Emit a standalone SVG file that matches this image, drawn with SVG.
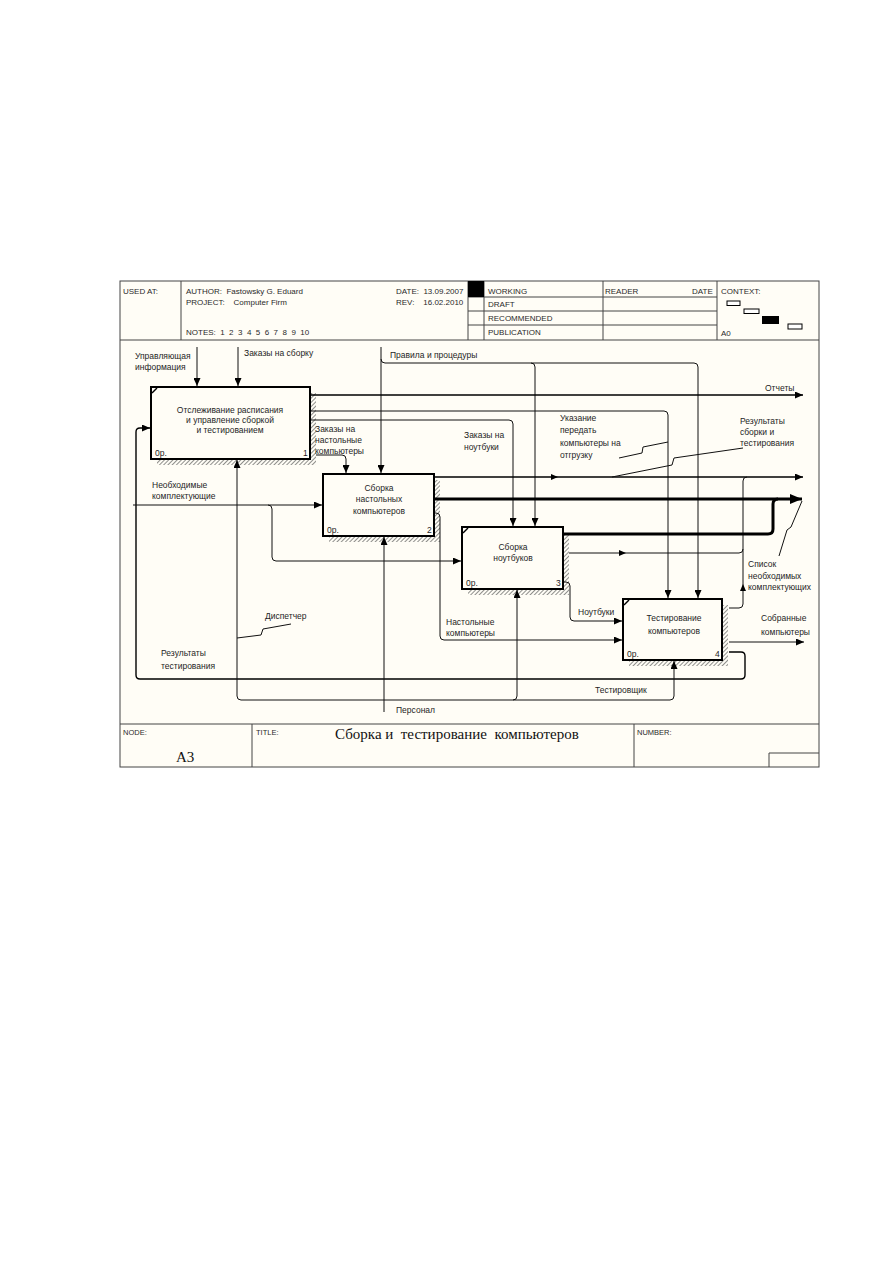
<svg xmlns="http://www.w3.org/2000/svg" width="893" height="1263" viewBox="0 0 893 1263">
<defs>
<style>
.t{font-family:"Liberation Sans",Arial,sans-serif;font-size:8.5px;fill:#1e1e1e}
.h{font-family:"Liberation Sans",Arial,sans-serif;font-size:8px;fill:#2a2a2a}
.f{font-family:"Liberation Sans",Arial,sans-serif;font-size:7.5px;fill:#2a2a2a}
.s{font-family:"Liberation Serif","Times New Roman",serif;font-size:15px;fill:#111}
.c{text-anchor:middle}
.grid{stroke:#444;stroke-width:1;fill:none}
.box{fill:#fffdf6;stroke:#000;stroke-width:2}
.sh{fill:url(#hatch)}
.ln{fill:none;stroke:#111;stroke-width:1}
.lnb{fill:none;stroke:#000;stroke-width:1.4}
.thk{fill:none;stroke:#000;stroke-width:3}
.arr{fill:#000}
</style>
<pattern id="hatch" width="3" height="3" patternUnits="userSpaceOnUse" patternTransform="rotate(45)">
<rect width="3" height="3" fill="#fffdf6"/>
<line x1="0" y1="0" x2="0" y2="3" stroke="#444" stroke-width="1.2"/>
</pattern>
<marker id="a" markerUnits="userSpaceOnUse" markerWidth="8" markerHeight="7" refX="8" refY="3.5" orient="auto">
<path d="M0,0 L8,3.5 L0,7 z" fill="#000"/>
</marker>
<marker id="ab" markerUnits="userSpaceOnUse" markerWidth="12" markerHeight="10" refX="12" refY="5" orient="auto">
<path d="M0,0 L12,5 L0,10 z" fill="#000"/>
</marker>
</defs>
<rect width="893" height="1263" fill="#fff"/>
<g id="frame">
<rect x="120" y="281" width="699" height="486" fill="#fffdf6" stroke="#444" stroke-width="1"/>
<path class="grid" d="M120,340 H819 M181,281 V340 M468,281 V340 M484,281 V340 M603,281 V340 M717,281 V340 M468,297 H717 M468,311 H717 M468,325 H717"/>
<rect x="468" y="281" width="16" height="16" fill="#000"/>
<text class="h" x="123" y="294">USED AT:</text>
<text class="h" x="186" y="294" xml:space="preserve">AUTHOR:  Fastowsky G. Eduard</text>
<text class="h" x="186" y="305" xml:space="preserve">PROJECT:    Computer Firm</text>
<text class="h" x="186" y="335" xml:space="preserve">NOTES:  1  2  3  4  5  6  7  8  9  10</text>
<text class="h" x="396" y="294" xml:space="preserve">DATE:  13.09.2007</text>
<text class="h" x="396" y="305" xml:space="preserve">REV:    16.02.2010</text>
<text class="h" x="488" y="294">WORKING</text>
<text class="h" x="488" y="307">DRAFT</text>
<text class="h" x="488" y="321">RECOMMENDED</text>
<text class="h" x="488" y="335">PUBLICATION</text>
<text class="h" x="605" y="294">READER</text>
<text class="h" x="692" y="294">DATE</text>
<text class="h" x="721" y="294">CONTEXT:</text>
<text class="h" x="721" y="336">A0</text>
<rect x="727" y="301" width="13" height="4.5" fill="#fff" stroke="#000" stroke-width="1"/>
<rect x="744" y="309" width="15" height="4.5" fill="#fff" stroke="#000" stroke-width="1"/>
<rect x="762" y="316" width="17" height="8" fill="#000"/>
<rect x="788" y="324" width="14" height="5" fill="#fff" stroke="#000" stroke-width="1"/>
<path class="grid" d="M120,724 H819 M252,724 V767 M634,724 V767 M769,753 H819 M769,753 V767"/>
<text class="f" x="123" y="735">NODE:</text>
<text class="f" x="256" y="735">TITLE:</text>
<text class="f" x="637" y="735">NUMBER:</text>
<text class="s" x="335" y="739" xml:space="preserve">Сборка и  тестирование  компьютеров</text>
<text class="s" x="176" y="762">A3</text>
</g>
<g id="node-1">
<rect class="sh" x="310" y="393" width="6" height="72"/>
<rect class="sh" x="157" y="459" width="159" height="6"/>
<rect class="box" x="151" y="387" width="159" height="72"/>
<path d="M152,393 L157,388" stroke="#000" stroke-width="1.5"/>
<text class="t c" x="230" y="413">Отслеживание расписания</text>
<text class="t c" x="230" y="423">и управление сборкой</text>
<text class="t c" x="230" y="433">и тестированием</text>
<text class="t" x="155" y="456">0р.</text>
<text class="t" x="303" y="456">1</text>
</g>
<g id="node-2">
<rect class="sh" x="434" y="480" width="6" height="62"/>
<rect class="sh" x="329" y="536" width="111" height="6"/>
<rect class="box" x="323" y="474" width="111" height="62"/>
<text class="t c" x="379" y="491">Сборка</text>
<text class="t c" x="379" y="502">настольных</text>
<text class="t c" x="379" y="514">компьютеров</text>
<text class="t" x="327" y="533">0р.</text>
<text class="t" x="427" y="533">2</text>
</g>
<g id="node-3">
<rect class="sh" x="563" y="533" width="6" height="62"/>
<rect class="sh" x="468" y="589" width="101" height="6"/>
<rect class="box" x="462" y="527" width="101" height="62"/>
<path d="M463,533 L468,528" stroke="#000" stroke-width="1.5"/>
<text class="t c" x="513" y="550">Сборка</text>
<text class="t c" x="513" y="561">ноутбуков</text>
<text class="t" x="466" y="586">0р.</text>
<text class="t" x="556" y="586">3</text>
</g>
<g id="node-4">
<rect class="sh" x="722" y="605" width="6" height="61"/>
<rect class="sh" x="629" y="660" width="99" height="6"/>
<rect class="box" x="623" y="599" width="99" height="61"/>
<path d="M624,605 L629,600" stroke="#000" stroke-width="1.5"/>
<text class="t c" x="674" y="621">Тестирование</text>
<text class="t c" x="674" y="634">компьютеров</text>
<text class="t" x="627" y="657">0р.</text>
<text class="t" x="715" y="657">4</text>
</g>
<g id="connectors">
<path class="ln" d="M197,347 V386" marker-end="url(#a)"/>
<path class="ln" d="M238,347 V386" marker-end="url(#a)"/>
<path class="ln" d="M381,347 V473" marker-end="url(#a)"/>
<path class="ln" d="M381,359 Q381,363 385,363 H694 Q698,363 698,367 V598" marker-end="url(#a)"/>
<path class="ln" d="M531,363 Q535,363 535,367 V526" marker-end="url(#a)"/>
<path class="lnb" d="M311,395 H803" marker-end="url(#a)"/>
<path class="ln" d="M311,411 H664 Q668,411 668,415 V598" marker-end="url(#a)"/>
<path class="ln" d="M311,420 H509 Q513,420 513,424 V526" marker-end="url(#a)"/>
<path class="ln" d="M316,455 H342 Q346,455 346,459 V473" marker-end="url(#a)"/>
<path class="lnb" d="M729,652 H741 Q745,652 745,656 V675 Q745,679 741,679 H140 Q136,679 136,675 V432 Q136,428 140,428 H150" marker-end="url(#a)"/>
<path class="ln" d="M241,700 Q237,700 237,696 V460" marker-end="url(#a)"/>
<path class="ln" d="M241,700 H513 Q517,700 517,696 V590" marker-end="url(#a)"/>
<path class="ln" d="M513,700 H670 Q674,700 674,696 V661" marker-end="url(#a)"/>
<path class="ln" d="M384,712 V537" marker-end="url(#a)"/>
<path class="ln" d="M133,505 H322" marker-end="url(#a)"/>
<path class="ln" d="M268,505 Q272,505 272,509 V557 Q272,561 276,561 H461" marker-end="url(#a)"/>
<path class="lnb" d="M435,477 H803" marker-end="url(#a)"/>
<path class="arr" d="M551,474 L558,477 L551,480 z"/>
<path class="ln" d="M729,608 H739 Q743,608 743,604 V481 Q743,477 747,477"/>
<path class="arr" d="M740,591 L743,584 L746,591 z"/>
<path class="thk" d="M435,499 H802" marker-end="url(#ab)"/>
<path class="thk" d="M564,534 H768 Q773,534 773,529 V504 Q773,499 778,499"/>
<path class="ln" d="M569,553 H739 Q743,553 743,549"/>
<path class="arr" d="M619,550 L626,553 L619,556 z"/>
<path class="ln" d="M564,582 H566 Q570,582 570,586 V617 Q570,621 574,621 H622" marker-end="url(#a)"/>
<path class="ln" d="M435,513 H436 Q440,513 440,517 V636 Q440,640 444,640 H622" marker-end="url(#a)"/>
<path class="ln" d="M729,642 H804" marker-end="url(#a)"/>
<path class="ln" d="M619,458 L642,453 L643,447 L668,442"/>
<path class="ln" d="M612,477 L672,465 L674,458 L743,448"/>
<path class="ln" d="M237,638 L261,635 L263,629 L291,624"/>
<path class="ln" d="M779,556 L787,530 L791,527 L802,501"/>
</g>
<g id="labels">
<text class="t" x="135" y="359">Управляющая</text>
<text class="t" x="135" y="370">информация</text>
<text class="t" x="244" y="356">Заказы на сборку</text>
<text class="t" x="390" y="358">Правила и процедуры</text>
<text class="t" x="765" y="391">Отчеты</text>
<text class="t" x="315" y="432">Заказы на</text>
<text class="t" x="315" y="443">настольные</text>
<text class="t" x="315" y="454">компьютеры</text>
<text class="t" x="464" y="438">Заказы на</text>
<text class="t" x="464" y="450">ноутбуки</text>
<text class="t" x="560" y="421">Указание</text>
<text class="t" x="560" y="433">передать</text>
<text class="t" x="560" y="446">компьютеры на</text>
<text class="t" x="560" y="458">отгрузку</text>
<text class="t" x="740" y="424">Результаты</text>
<text class="t" x="740" y="435">сборки и</text>
<text class="t" x="740" y="446">тестирования</text>
<text class="t" x="152" y="488">Необходимые</text>
<text class="t" x="152" y="499">комплектующие</text>
<text class="t" x="748" y="567">Список</text>
<text class="t" x="748" y="579">необходимых</text>
<text class="t" x="748" y="590">комплектующих</text>
<text class="t" x="578" y="615">Ноутбуки</text>
<text class="t" x="446" y="625">Настольные</text>
<text class="t" x="446" y="636">компьютеры</text>
<text class="t" x="761" y="621">Собранные</text>
<text class="t" x="761" y="635">компьютеры</text>
<text class="t" x="265" y="619">Диспетчер</text>
<text class="t" x="161" y="656">Результаты</text>
<text class="t" x="161" y="669">тестирования</text>
<text class="t" x="595" y="693">Тестировщик</text>
<text class="t" x="396" y="713">Персонал</text>
</g>
</svg>
